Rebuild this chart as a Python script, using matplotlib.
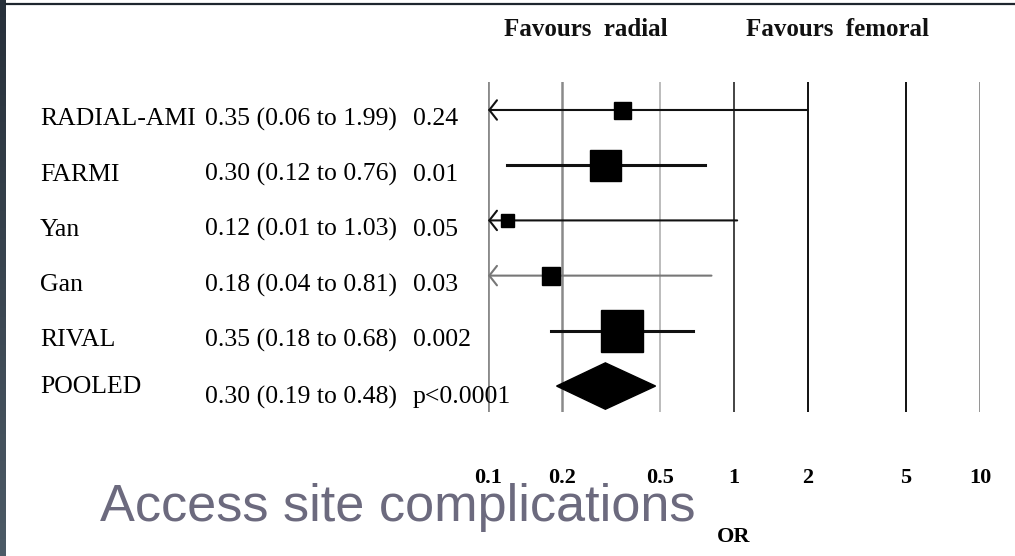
import numpy as np
import matplotlib
matplotlib.use("Agg")
import matplotlib.pyplot as plt
from matplotlib.lines import Line2D

# data
studies = ["RADIAL-AMI", "FARMI", "Yan", "Gan", "RIVAL"]
odds = [0.35, 0.30, 0.12, 0.18, 0.35]
lower = [0.06, 0.12, 0.01, 0.04, 0.18]
upper = [1.99, 0.76, 1.03, 0.81, 0.68]
weights = [17, 31, 13, 18, 42]  # box size (px) ~ study weight
est_text = ["0.35 (0.06 to 1.99)", "0.30 (0.12 to 0.76)", "0.12 (0.01 to 1.03)",
            "0.18 (0.04 to 0.81)", "0.35 (0.18 to 0.68)"]
p_text = ["0.24", "0.01", "0.05", "0.03", "0.002"]
pooled = (0.30, 0.19, 0.48)
pooled_est = "0.30 (0.19 to 0.48)"
pooled_p = "p<0.0001"
ticks = [0.1, 0.2, 0.5, 1, 2, 5, 10]
tick_labels = ["0.1", "0.2", "0.5", "1", "2", "5", "10"]

W, H = 1015, 556
fig = plt.figure(figsize=(W / 100, H / 100), dpi=100)
fig.patch.set_facecolor("white")

# dark strip on the left edge
strip = fig.add_axes([0, 0, 6 / W, 1])
strip.imshow(np.linspace(0, 1, 100).reshape(-1, 1), aspect="auto",
             cmap=matplotlib.colors.LinearSegmentedColormap.from_list("s", ["#27303a", "#4c5a66"]))
strip.axis("off")
fig.add_artist(Line2D([6 / W, 1], [1 - 4 / H, 1 - 4 / H], color="#1e262e", lw=1.6))

serif = "Liberation Serif"

# forest plot axes: 0.1 -> 488px, 10 -> 980px ; lines 82px..412px, rows 110..386px
ax = fig.add_axes([488 / W, 1 - 412 / H, 492 / W, 330 / H])
ax.set_xscale("log")
ax.set_xlim(0.1, 10)
ax.set_ylim(5.47, -0.507)
ax.axis("off")

line_cols = {0.1: "#8a8a8a", 0.2: "#8a8a8a", 0.5: "#aaaaaa", 1: "#111111",
             2: "#111111", 5: "#111111", 10: "#8a8a8a"}
line_w = {0.1: 2.0, 0.2: 1.8, 0.5: 1.1, 1: 1.1, 2: 1.4, 5: 1.4, 10: 2.0}
for t in ticks:
    ax.axvline(t, color=line_cols[t], lw=line_w[t], zorder=1)

ci_cols = ["#111111", "#111111", "#111111", "#777777", "#111111"]
for i in range(len(studies)):
    c = ci_cols[i]
    if lower[i] < 0.1:
        ax.annotate("", xy=(0.1, i), xytext=(upper[i], i),
                    arrowprops=dict(arrowstyle="->, head_length=0.55, head_width=0.7",
                                    color=c, lw=1.5, shrinkA=0, shrinkB=0,
                                    mutation_scale=10), zorder=2)
    else:
        ax.plot([lower[i], upper[i]], [i, i], color=c, lw=2.2, zorder=2)
    ax.plot(odds[i], i, marker="s", ms=weights[i] * 0.72, color="black",
            mec="black", zorder=3, clip_on=False)

# pooled diamond
yp = len(studies)
h = 0.42
ax.fill([pooled[1], pooled[0], pooled[2], pooled[0]], [yp, yp - h, yp, yp + h],
        color="black", zorder=3)

# text columns, x in figure pixels, y in row data (text sits a little below the marks)
tr = matplotlib.transforms.blended_transform_factory(fig.transFigure, ax.transData)
fs = 18.5
for i in range(len(studies)):
    ax.text(40 / W, i + 0.17, studies[i], transform=tr, fontsize=fs, family=serif,
            va="center", ha="left")
    ax.text(205 / W, i + 0.17, est_text[i], transform=tr, fontsize=fs, family=serif,
            va="center", ha="left")
    ax.text(413 / W, i + 0.17, p_text[i], transform=tr, fontsize=fs, family=serif,
            va="center", ha="left")
ax.text(40 / W, yp + 0.02, "POOLED", transform=tr, fontsize=fs, family=serif,
        va="center", ha="left")
ax.text(205 / W, yp + 0.2, pooled_est, transform=tr, fontsize=fs, family=serif,
        va="center", ha="left")
ax.text(413 / W, yp + 0.2, pooled_p, transform=tr, fontsize=fs, family=serif,
        va="center", ha="left")

# headers
fig.text(586 / W, 1 - 29 / H, "Favours  radial", fontsize=18, family=serif,
         weight="bold", ha="center", va="center", color="#111111")
fig.text(837 / W, 1 - 29 / H, "Favours  femoral", fontsize=18, family=serif,
         weight="bold", ha="center", va="center", color="#111111")

# tick labels and axis label
ax_tr = matplotlib.transforms.blended_transform_factory(ax.transData, fig.transFigure)
for t, lab in zip(ticks, tick_labels):
    ax.text(t, 1 - 478 / H, lab, transform=ax_tr, fontsize=16, family=serif,
            weight="bold", ha="center", va="center")
ax.text(1, 1 - 537 / H, "OR", transform=ax_tr, fontsize=16, family=serif,
        weight="bold", ha="center", va="center")

# slide title
fig.text(100 / W, 1 - 508 / H, "Access site complications", fontsize=37.6,
         family="Liberation Sans", color="#6c6a7e", ha="left", va="center")

fig.savefig("out.png", dpi=100)
